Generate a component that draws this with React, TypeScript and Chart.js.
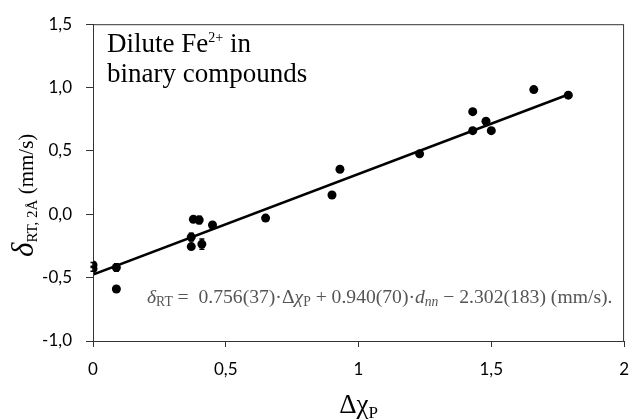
import React, { useEffect, useRef } from "react";
import { Chart, registerables } from "chart.js";

Chart.register(...registerables);

// Measured points (Δχ_P, δ_RT) and their error bars
const chiValues = [0, 0, 0.088, 0.088, 0.37, 0.378, 0.40, 0.37, 0.41, 0.45, 0.65, 0.90, 0.93, 1.23, 1.43, 1.43, 1.48, 1.50, 1.66, 1.79];
const deltaValues = [-0.40, -0.43, -0.42, -0.59, -0.18, -0.04, -0.045, -0.255, -0.235, -0.085, -0.03, 0.152, 0.355, 0.477, 0.81, 0.66, 0.734, 0.66, 0.984, 0.94];
const deltaErrors = [0.02, 0.02, 0.03, 0, 0.03, 0, 0.03, 0, 0.04, 0, 0, 0, 0, 0, 0, 0, 0, 0, 0.02, 0];

// Fit line end points
const fitX = [0, 1.79];
const fitY = [-0.475, 0.945];

// Axes
const xTicks = [0, 0.5, 1, 1.5, 2];
const xTickLabels = ["0", "0,5", "1", "1,5", "2"];
const yTicks = [-1, -0.5, 0, 0.5, 1, 1.5];
const yTickLabels = ["-1,0", "-0,5", "0,0", "0,5", "1,0", "1,5"];

const SERIF = '"Liberation Serif", "Times New Roman", serif';
const SANS = 'Lato, "Open Sans", sans-serif';

type Seg = { t: string; size: number; italic?: boolean; dy?: number };

function segWidth(ctx: CanvasRenderingContext2D, segs: Seg[], scale = 1) {
  let w = 0;
  for (const s of segs) {
    ctx.font = `${s.italic ? "italic " : ""}${s.size * scale}px ${SERIF}`;
    w += ctx.measureText(s.t).width;
  }
  return w;
}

function drawRich(ctx: CanvasRenderingContext2D, segs: Seg[], x: number, y: number, scale = 1) {
  for (const s of segs) {
    ctx.font = `${s.italic ? "italic " : ""}${s.size * scale}px ${SERIF}`;
    ctx.fillText(s.t, x, y + (s.dy || 0) * scale);
    x += ctx.measureText(s.t).width;
  }
  return x;
}

const overlayPlugin = {
  id: "overlay",
  afterDraw(chart: any) {
    const ctx: CanvasRenderingContext2D = chart.ctx;
    const { left, right, top, bottom } = chart.chartArea;
    const xs = chart.scales.x;
    const ys = chart.scales.y;
    ctx.save();
    // frame
    ctx.strokeStyle = "#333";
    ctx.lineWidth = 1;
    ctx.strokeRect(left + 0.5, top + 0.5, right - left - 1, bottom - top);

    // error bars
    ctx.strokeStyle = "#000";
    ctx.lineWidth = 1.5;
    chiValues.forEach((cx, i) => {
      const e = deltaErrors[i];
      if (!e) return;
      const px = xs.getPixelForValue(cx);
      const y1 = ys.getPixelForValue(deltaValues[i] - e);
      const y2 = ys.getPixelForValue(deltaValues[i] + e);
      ctx.beginPath();
      ctx.moveTo(px, y1);
      ctx.lineTo(px, y2);
      ctx.moveTo(px - 2.5, y1);
      ctx.lineTo(px + 2.5, y1);
      ctx.moveTo(px - 2.5, y2);
      ctx.lineTo(px + 2.5, y2);
      ctx.stroke();
    });

    ctx.fillStyle = "#000";
    ctx.textAlign = "left";
    ctx.textBaseline = "alphabetic";

    // text box
    drawRich(ctx, [
      { t: "Dilute Fe", size: 27 },
      { t: "2+", size: 14, dy: -10 },
      { t: " in", size: 27 },
    ], 107, 52);
    drawRich(ctx, [{ t: "binary compounds", size: 27 }], 107, 82);

    // equation
    ctx.fillStyle = "#555";
    const eq: Seg[] = [
      { t: "δ", size: 18, italic: true },
      { t: "RT", size: 12.5, dy: 3 },
      { t: " =  0.756(37)·Δ", size: 18 },
      { t: "χ", size: 18, italic: true },
      { t: "P", size: 12.5, dy: 3 },
      { t: " + 0.940(70)·", size: 18 },
      { t: "d", size: 18, italic: true },
      { t: "nn", size: 12.5, italic: true, dy: 3 },
      { t: " − 2.302(183) (mm/s).", size: 18 },
    ];
    const eqW = segWidth(ctx, eq);
    const eqScale = 466 / eqW;
    drawRich(ctx, eq, 147, 303, eqScale);

    // x title
    ctx.fillStyle = "#000";
    const xt: Seg[] = [
      { t: "Δχ", size: 27 },
      { t: "P", size: 17, dy: 5 },
    ];
    const xw = segWidth(ctx, xt);
    drawRich(ctx, xt, (left + right) / 2 - xw / 2, 413);

    // y title
    ctx.save();
    ctx.translate(33, 257);
    ctx.rotate(-Math.PI / 2);
    drawRich(ctx, [
      { t: "δ", size: 31, italic: true },
      { t: "RT, 2Å", size: 15, dy: 4 },
      { t: " (mm/s)", size: 21 },
    ], 0, 0);
    ctx.restore();

    ctx.restore();
  },
};

export default function App() {
  const ref = useRef<HTMLCanvasElement | null>(null);
  useEffect(() => {
    if (!ref.current) return;
    const chart = new Chart(ref.current, {
      type: "scatter",
      data: {
        datasets: [
          {
            type: "line",
            data: fitX.map((x, i) => ({ x, y: fitY[i] })),
            borderColor: "#000",
            borderWidth: 2.5,
            pointRadius: 0,
            fill: false,
            order: 2,
          } as any,
          {
            type: "scatter",
            data: chiValues.map((x, i) => ({ x, y: deltaValues[i] })),
            backgroundColor: "#000",
            borderColor: "#000",
            pointRadius: 4.5,
            pointBorderWidth: 0,
            order: 1,
          },
        ],
      },
      options: {
        responsive: false,
        animation: false,
        devicePixelRatio: 1,
        layout: { padding: { top: 18, right: 8, left: 0, bottom: 0 } },
        plugins: { legend: { display: false }, tooltip: { enabled: false } },
        scales: {
          x: {
            type: "linear",
            min: 0,
            max: 2,
            afterBuildTicks: (s: any) => { s.ticks = xTicks.map((v) => ({ value: v })); },
            afterFit: (s: any) => { s.height = 79; },
            ticks: {
              callback: (v: any) => xTickLabels[xTicks.indexOf(Number(v))] ?? "",
              font: { family: SANS, size: 17 },
              color: "#000",
              padding: 12,
              maxRotation: 0,
            },
            grid: { drawOnChartArea: false, drawTicks: true, tickLength: 6, color: "#333" },
            border: { display: true, color: "#333" },
          },
          y: {
            type: "linear",
            min: -1,
            max: 1.5,
            afterBuildTicks: (s: any) => { s.ticks = yTicks.map((v) => ({ value: v })); },
            afterFit: (s: any) => { s.width = 93; },
            ticks: {
              callback: (v: any) => yTickLabels[yTicks.indexOf(Number(v))] ?? "",
              font: { family: SANS, size: 17 },
              color: "#000",
              padding: 14,
            },
            grid: { drawOnChartArea: false, drawTicks: true, tickLength: 7, color: "#333" },
            border: { display: true, color: "#333" },
          },
        },
      },
      plugins: [overlayPlugin],
    });
    return () => chart.destroy();
  }, []);
  return (
    <div style={{ position: "fixed", left: 0, top: 0, width: 641, height: 420, background: "#fff" }}>
      <canvas ref={ref} width={641} height={420} style={{ width: 641, height: 420 }} />
    </div>
  );
}
